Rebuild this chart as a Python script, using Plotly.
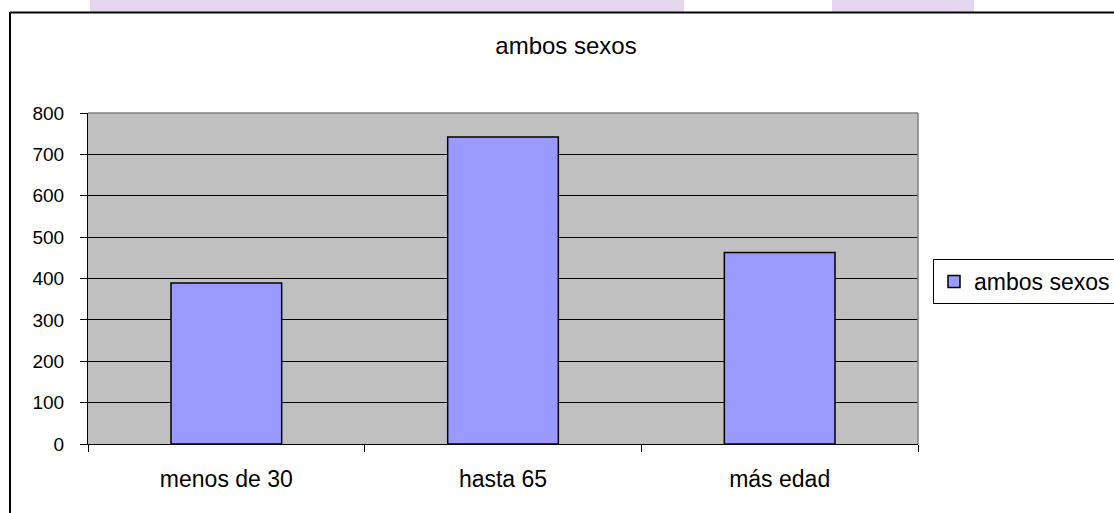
import plotly.graph_objects as go

categories = ["menos de 30", "hasta 65", "más edad"]
values = [389, 742, 463]
series_name = "ambos sexos"
y_ticks = [0, 100, 200, 300, 400, 500, 600, 700, 800]

# layout geometry (pixels)
W, H = 1114, 513
L, R, T, B = 88, 918, 113, 444
pw, ph = R - L, B - T

def px(x):
    return (x - L) / pw

def py(y):
    return (B - y) / ph

fig = go.Figure()
fig.add_trace(go.Bar(
    x=categories, y=values, name=series_name,
    marker=dict(color="#9999FF", line=dict(color="#000000", width=1.5)),
    width=0.4, showlegend=True,
))

shapes = [
    # lavender strips at top
    dict(type="rect", xref="paper", yref="paper", x0=px(90), x1=px(684), y0=py(12), y1=py(-2),
         fillcolor="#E4D6EE", line=dict(width=0), layer="below"),
    dict(type="rect", xref="paper", yref="paper", x0=px(832), x1=px(974), y0=py(12), y1=py(-2),
         fillcolor="#E4D6EE", line=dict(width=0), layer="below"),
    # chart border (top & left)
    dict(type="line", xref="paper", yref="paper", x0=px(10), x1=px(1130), y0=py(12.5), y1=py(12.5),
         line=dict(color="#000000", width=2)),
    dict(type="line", xref="paper", yref="paper", x0=px(10), x1=px(10), y0=py(12), y1=py(530),
         line=dict(color="#000000", width=2)),
    # plot area border (top & right)
    dict(type="line", xref="paper", yref="paper", x0=0, x1=1, y0=1, y1=1,
         line=dict(color="#808080", width=1.5)),
    dict(type="line", xref="paper", yref="paper", x0=1, x1=1, y0=0, y1=1,
         line=dict(color="#808080", width=1.5)),
]

fig.update_layout(
    width=W, height=H,
    margin=dict(l=L, r=W - R, t=T, b=H - B, pad=0, autoexpand=False),
    paper_bgcolor="#FFFFFF",
    plot_bgcolor="#C0C0C0",
    font=dict(family="Liberation Sans, Arial, sans-serif", size=20, color="#000000"),
    title=dict(text="ambos sexos", x=566 / W, xanchor="center", y=1 - 46 / H, yanchor="middle",
               font=dict(size=24)),
    bargap=0.6,
    showlegend=True,
    legend=dict(xref="container", yref="container", x=933 / W, xanchor="left",
                y=1 - 259 / H, yanchor="top",
                bordercolor="#000000", borderwidth=1, bgcolor="#FFFFFF",
                font=dict(size=23)),
    shapes=shapes,
)

fig.update_xaxes(
    showgrid=False, showline=True, linecolor="#000000", linewidth=1,
    ticks="outside", tickson="boundaries", ticklen=7, tickcolor="#000000",
    tickfont=dict(size=23), zeroline=False, ticklabelstandoff=14,
)
fig.update_yaxes(
    range=[0, 800], tickvals=y_ticks, showgrid=True, gridcolor="#000000", gridwidth=1,
    showline=True, linecolor="#000000", linewidth=1,
    ticks="outside", ticklen=7, tickcolor="#000000", zeroline=False,
    tickfont=dict(size=19), ticklabelstandoff=12,
)

fig.write_html("out.html", config={"displayModeBar": False},
               post_script="document.body.style.margin='0';")
